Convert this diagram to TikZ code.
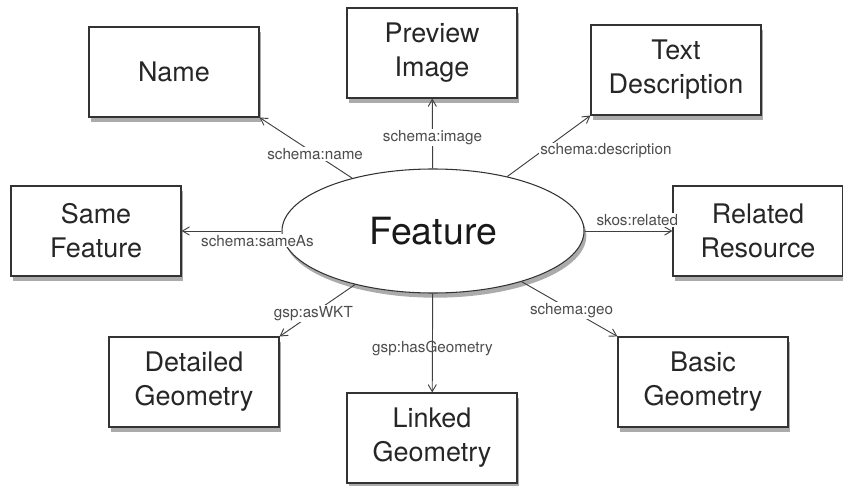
\documentclass[tikz,border=0pt]{standalone}
\usepackage{fontspec}
\setmainfont{TeX Gyre Heros}
\usepackage{tikz}
\usetikzlibrary{arrows.meta,shapes.geometric,shadows}

\begin{document}
\begin{tikzpicture}[
      x=0.03cm, y=-0.03cm,
      thing/.style={draw=black!80, line width=0.9pt, fill=white, rectangle, minimum width=5.1cm, minimum height=2.7cm,
        align=center, text=black!85, font=\fontsize{23}{29}\selectfont,
        drop shadow={shadow xshift=2pt, shadow yshift=-4pt, fill=black!55, opacity=0.6}},
      hub/.style={draw=black!80, line width=0.9pt, fill=white, ellipse, minimum width=9.06cm, minimum height=3.72cm,
        text=black!90, font=\fontsize{32}{36}\selectfont,
        drop shadow={shadow xshift=2pt, shadow yshift=-4pt, fill=black!55, opacity=0.6}},
      link/.style={draw=black!75, line width=0.8pt, -{Straight Barb[length=6pt,width=7pt]}},
      rel/.style={font=\fontsize{13}{15}\selectfont, text=black!70, fill=white, inner sep=1pt}
    ]
      \useasboundingbox (0,0) rectangle (843,486);

      \node[hub] (feature) at (433,231) {Feature};

      \node[thing] (name) at (174,72) {Name};
      \node[thing] (preview) at (432,53) {Preview\\Image};
      \node[thing] (desc) at (676,70) {Text\\Description};
      \node[thing] (same) at (96,231) {Same\\Feature};
      \node[thing] (related) at (758,231) {Related\\Resource};
      \node[thing] (detailed) at (194,382) {Detailed\\Geometry};
      \node[thing] (linked) at (432,438) {Linked\\Geometry};
      \node[thing] (basic) at (703,382) {Basic\\Geometry};

      \draw[link] (feature) -- node[rel, pos=0.4] {schema:name} (name.south east);
      \draw[link] (feature) -- node[rel, pos=0.44] {schema:image} (preview);
      \draw[link] (feature) -- node[rel, pos=0.42, anchor=west, xshift=-3pt] {schema:description} (desc.south west);
      \draw[link] (feature) -- node[rel, pos=0.6, above, yshift=3pt] {skos:related} (related);
      \draw[link] (feature) -- node[rel, pos=0.24, below, yshift=-2pt] {schema:sameAs} (same);
      \draw[link] (feature) -- node[rel, pos=0.55] {gsp:asWKT} (detailed.north east);
      \draw[link] (feature) -- node[rel, pos=0.56, fill=none] {gsp:hasGeometry} (linked);
      \draw[link] (feature) -- node[rel, pos=0.52] {schema:geo} (basic.north west);
    \end{tikzpicture}
\end{document}
